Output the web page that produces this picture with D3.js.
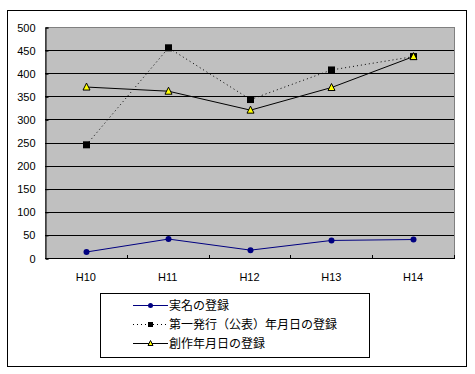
<!DOCTYPE html>
<html>
<head>
<meta charset="utf-8">
<script src="https://cdn.jsdelivr.net/npm/d3@7"></script>
<style>
  body { margin: 0; background: #fff; }
  svg text { font-family: "Liberation Sans", Arial, "Noto Sans CJK JP", sans-serif; font-size: 11px; fill: #000; }
  .jp { font-family: "Noto Sans CJK JP", sans-serif; font-size: 12px; }
</style>
</head>
<body>
<script>
// chart data
var years = ["H10", "H11", "H12", "H13", "H14"];
var realName = [13, 41, 17, 38, 40];
var firstPub = [245, 455, 343, 407, 436];
var created = [370, 361, 320, 369, 436];
var seriesNames = ["実名の登録", "第一発行（公表）年月日の登録", "創作年月日の登録"];
var yTicks = [0, 50, 100, 150, 200, 250, 300, 350, 400, 450, 500];

window.onload = function() {

  var W = 475, H = 374;
  var plot = { left: 45, right: 454, top: 27, bottom: 258 };

  var svg = d3.select("body").append("svg")
      .attr("width", W)
      .attr("height", H);

  // outer chart border
  svg.append("rect")
      .attr("x", 7.5).attr("y", 10.5)
      .attr("width", 459).attr("height", 356)
      .attr("fill", "#fff").attr("stroke", "#000");

  var xScale = d3.scaleBand()
      .domain(years)
      .range([plot.left, plot.right]);

  var yScale = d3.scaleLinear()
      .domain([0, 500])
      .range([plot.bottom, plot.top]);

  function cx(d, i) { return Math.round(xScale(years[i]) + xScale.bandwidth() / 2) + 0.5; }

  // plot area
  svg.append("rect")
      .attr("x", plot.left + 0.5).attr("y", plot.top + 0.5)
      .attr("width", plot.right - plot.left).attr("height", plot.bottom - plot.top)
      .attr("fill", "#c0c0c0").attr("stroke", "#808080");

  // gridlines
  svg.selectAll(".grid")
      .data(yTicks.slice(1, -1))
      .enter().append("line")
      .attr("x1", plot.left).attr("x2", plot.right)
      .attr("y1", function(d) { return Math.round(yScale(d)) + 0.5; })
      .attr("y2", function(d) { return Math.round(yScale(d)) + 0.5; })
      .attr("stroke", "#000");

  // y axis
  var yAxis = d3.axisLeft(yScale).tickValues(yTicks).tickSize(-3).tickPadding(10);
  var gy = svg.append("g")
      .attr("transform", "translate(" + (plot.left + 0.5) + ",0.5)")
      .call(yAxis);
  gy.select(".domain").attr("stroke", "#000");
  gy.selectAll("line").attr("stroke", "#000");
  gy.selectAll("text").attr("font-size", 11).attr("font-family", null);

  // x axis, ticks between categories pointing up
  svg.append("line")
      .attr("x1", plot.left).attr("x2", plot.right + 1)
      .attr("y1", plot.bottom + 0.5).attr("y2", plot.bottom + 0.5)
      .attr("stroke", "#000");
  svg.selectAll(".xtick")
      .data(years.slice(1).concat(["end"]))
      .enter().append("line")
      .attr("x1", function(d, i) { return Math.round(plot.left + xScale.step() * (i + 1)) + 0.5; })
      .attr("x2", function(d, i) { return Math.round(plot.left + xScale.step() * (i + 1)) + 0.5; })
      .attr("y1", plot.bottom - 3).attr("y2", plot.bottom)
      .attr("stroke", "#000");
  svg.selectAll(".xlab")
      .data(years)
      .enter().append("text")
      .attr("x", function(d) { return xScale(d) + xScale.bandwidth() / 2; })
      .attr("y", 281)
      .attr("text-anchor", "middle")
      .text(function(d) { return d; });

  var line = d3.line()
      .x(cx)
      .y(function(d) { return yScale(d); });

  // series lines
  svg.append("path").datum(firstPub).attr("d", line)
      .attr("fill", "none").attr("stroke", "#000").attr("stroke-dasharray", "1,3");
  svg.append("path").datum(created).attr("d", line)
      .attr("fill", "none").attr("stroke", "#000");
  svg.append("path").datum(realName).attr("d", line)
      .attr("fill", "none").attr("stroke", "#000080");

  // markers
  function circle(g, x, y, s) {
    g.append("circle")
        .attr("cx", x).attr("cy", y).attr("r", s / 2)
        .attr("fill", "#000080");
  }
  function square(g, x, y, s) {
    g.append("rect")
        .attr("x", x - s / 2).attr("y", y - s / 2)
        .attr("width", s).attr("height", s)
        .attr("fill", "#000");
  }
  function triangle(g, x, y, s) {
    var h = s / 2;
    g.append("path")
        .attr("d", "M" + x + "," + (y - h - 0.5) + "L" + (x + h) + "," + (y + h - 0.5) + "L" + (x - h) + "," + (y + h - 0.5) + "Z")
        .attr("fill", "#ffff00").attr("stroke", "#000");
  }

  firstPub.forEach(function(d, i) { square(svg, cx(d, i), yScale(d), 7); });
  created.forEach(function(d, i) { triangle(svg, cx(d, i), yScale(d), 7); });
  realName.forEach(function(d, i) { circle(svg, cx(d, i), yScale(d), 6); });

  // legend
  var lg = svg.append("g");
  lg.append("rect")
      .attr("x", 100.5).attr("y", 293.5)
      .attr("width", 269).attr("height", 64)
      .attr("fill", "#fff").attr("stroke", "#000");

  var rowY = [305, 324, 343];
  var styles = [
    { stroke: "#000080", dash: null, mark: circle },
    { stroke: "#000", dash: "1,3", mark: square },
    { stroke: "#000", dash: null, mark: triangle }
  ];
  seriesNames.forEach(function(name, i) {
    var y = rowY[i] + 0.5;
    lg.append("line")
        .attr("x1", 133).attr("x2", 168)
        .attr("y1", y).attr("y2", y)
        .attr("stroke", styles[i].stroke)
        .attr("stroke-dasharray", styles[i].dash);
    styles[i].mark(lg, 150.5, y, 5);
    lg.append("text")
        .attr("class", "jp")
        .attr("x", 169)
        .attr("y", y + 4.5)
        .text(name);
  });
};
</script>
</body>
</html>
